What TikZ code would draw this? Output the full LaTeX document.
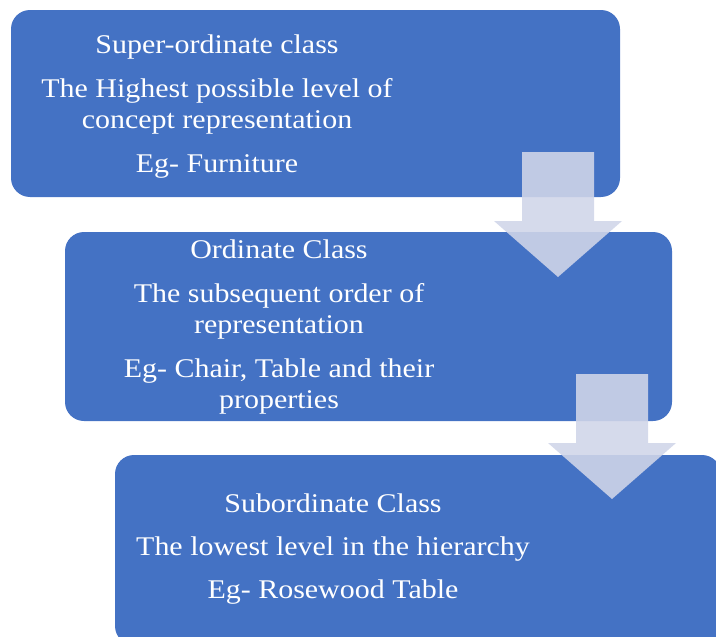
\documentclass[tikz,border=0pt]{standalone}
\usepackage{fontspec}
\setmainfont{Liberation Serif}[FakeStretch=1.11]
\definecolor{boxblue}{RGB}{68,114,196}
\definecolor{arrowfill}{RGB}{208,213,233}
\tikzset{
  classbox/.style={fill=boxblue, draw=none, rounded corners=19pt, inner sep=0pt},
  classtext/.style={text=white, align=center, inner sep=0pt, anchor=north,
    font=\fontsize{27}{31}\selectfont},
  downarrow/.pic={
    \path[fill=arrowfill, fill opacity=0.89]
      (-36,-125) -- (36,-125) -- (36,-56) -- (64,-56) -- (0,0)
      -- (-64,-56) -- (-36,-56) -- cycle;
  }
}
\begin{document}
\begin{tikzpicture}[x=1pt,y=-1pt]
\useasboundingbox (0,0) rectangle (716,637);
\clip (0,0) rectangle (716,637);
% boxes
\node[classbox, minimum width=609pt, minimum height=187pt] (b1) at (315.5,103.5) {};
\node[classbox, minimum width=607pt, minimum height=189pt] (b2) at (368.5,326.5) {};
\node[classbox, minimum width=606pt, minimum height=190pt] (b3) at (418,550) {};
% texts
\node[classtext] (t1) at (217,34.6) {Super-ordinate class\\[13pt]The Highest possible level of\\concept representation\\[13pt]Eg- Furniture};
\node[classtext] (t2) at (279,239.3) {Ordinate Class\\[13pt]The subsequent order of\\representation\\[13pt]Eg- Chair, Table and their\\properties};
\node[classtext] (t3) at (333,493.5) {Subordinate Class\\[12pt]The lowest level in the hierarchy\\[12pt]Eg- Rosewood Table};
% arrows
\coordinate (a1) at (558,277);
\coordinate (a2) at (612,499);
\pic at (a1) {downarrow};
\pic at (a2) {downarrow};
\end{tikzpicture}
\end{document}
